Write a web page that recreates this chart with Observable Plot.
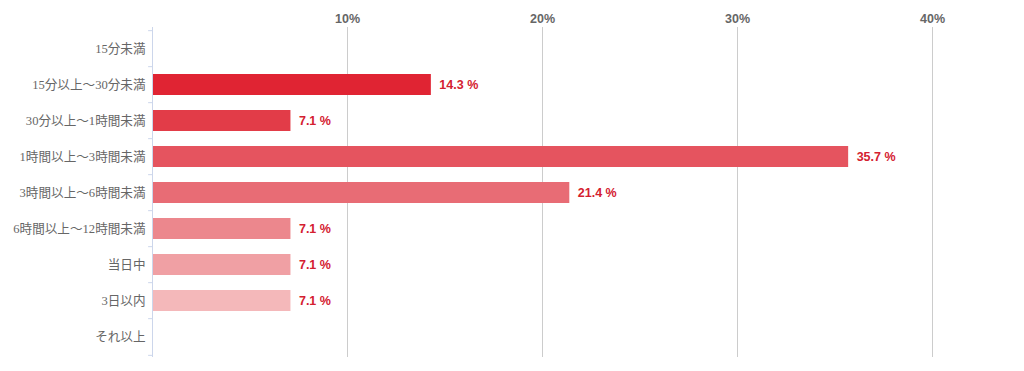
<!DOCTYPE html>
<html><head><meta charset="utf-8">
<script src="https://cdn.jsdelivr.net/npm/d3@7"></script>
<script src="https://cdn.jsdelivr.net/npm/@observablehq/plot@0.6"></script>
<style>body{margin:0;background:#fff;} svg{display:block;}</style>
</head><body><div id="chart"></div>
<script>
const categories = ["15分未満","15分以上〜30分未満","30分以上〜1時間未満","1時間以上〜3時間未満","3時間以上〜6時間未満","6時間以上〜12時間未満","当日中","3日以内","それ以上"];
const values = [0, 14.3, 7.1, 35.7, 21.4, 7.1, 7.1, 7.1, 0];
const colors = ["#e0202f","#e02433","#e23c48","#e5545f","#e86c75","#ec878d","#f0a0a4","#f4b8ba","#f7cfd1"];
const xTicks = [10, 20, 30, 40];

const data = categories.map((c, i) => ({cat: c, v: values[i], color: colors[i]}));
const W = 1024, H = 371, mT = 27, mB = 14, mL = 152, mR = 14;
const step = (H - mT - mB) / categories.length;

const chart = Plot.plot({
  width: W, height: H,
  marginTop: mT, marginBottom: mB, marginLeft: mL, marginRight: mR,
  style: {fontFamily: "'Liberation Sans', Arial, sans-serif", background: "#fff"},
  x: {domain: [0, 44]},
  y: {domain: categories, paddingInner: 0.42, paddingOuter: 0.21, align: 0.5},
  marks: [
    Plot.ruleX(xTicks, {stroke: "#cccccc", strokeWidth: 1}),
    Plot.axisX({anchor: "top", ticks: xTicks, tickSize: 0, tickPadding: 5, tickFormat: d => d + "%", fontWeight: "bold", fontSize: 12.5, fill: "#666", label: null}),
    Plot.barX(data.filter(d => d.v > 0), {y: "cat", x: "v", fill: "color"}),
    Plot.text(data.filter(d => d.v > 0), {y: "cat", x: "v", text: d => d.v.toFixed(1) + " %", dx: 8, textAnchor: "start", fill: "#d42030", fontWeight: "bold", fontSize: 12.5}),
    Plot.ruleX([0], {stroke: "#ccd6eb", strokeWidth: 1}),
    Plot.ruleY(categories, {y: d => d, x1: -0.2, x2: 0, dy: -step / 2, stroke: "#ccd6eb"}),
    Plot.ruleY([categories[categories.length - 1]], {y: d => d, x1: -0.2, x2: 0, dy: step / 2, stroke: "#ccd6eb"}),
    Plot.axisY({tickSize: 0, tickPadding: 7, fontSize: 12.6, fill: "#666", label: null,
      fontFamily: "'Liberation Serif', 'Noto Sans CJK JP', serif", letterSpacing: "-0.5px"})
  ]
});
document.getElementById("chart").append(chart);
</script></body></html>
